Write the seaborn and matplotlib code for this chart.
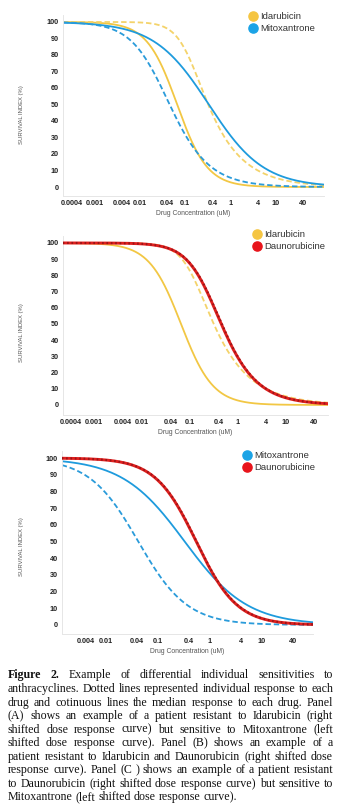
import numpy as np
import pandas as pd
import matplotlib
matplotlib.use("Agg")
import matplotlib.pyplot as plt
from matplotlib.lines import Line2D
from matplotlib.ticker import NullLocator
from matplotlib.transforms import ScaledTranslation
import seaborn as sns

sns.set_theme(style="white")
plt.rcParams['font.family'] = ['Liberation Sans', 'DejaVu Sans']

W, H, DPI = 342, 810, 100

# ---------------- data ----------------
panel_a_drugs = ["Idarubicin", "Mitoxantrone"]
panel_b_drugs = ["Idarubicin", "Daunorubicine"]
panel_c_drugs = ["Mitoxantrone", "Daunorubicine"]

# Dose-response curves (median and individual patient):
# concentration at 50 % survival (uM), Hill slope and asymmetry of the fitted curve
curve_panel = ["A", "A", "A", "A", "B", "B", "B", "B", "C", "C", "C", "C"]
curve_drug = ["Idarubicin", "Idarubicin", "Mitoxantrone", "Mitoxantrone",
              "Idarubicin", "Idarubicin", "Daunorubicine", "Daunorubicine",
              "Mitoxantrone", "Mitoxantrone", "Daunorubicine", "Daunorubicine"]
curve_kind = ["median", "patient"] * 6
curve_ic50 = [0.066, 0.32, 0.33, 0.045, 0.066, 0.32, 0.46, 0.47, 0.33, 0.042, 0.55, 0.56]
curve_hill = [1.3, 1.88, 0.72, 1.1, 1.3, 1.88, 1.42, 1.42, 0.72, 0.92, 1.1, 1.1]
curve_asym = [1.0, 0.35, 1.0, 0.75, 1.0, 0.35, 0.6, 0.6, 1.0, 1.0, 1.0, 1.0]

conc_min = {"A": 0.0002, "B": 0.00022, "C": 0.0014}
conc_max = {"A": 115, "B": 80, "C": 100}

ticks_ab = [0.0004, 0.001, 0.004, 0.01, 0.04, 0.1, 0.4, 1, 4, 10, 40]
tick_labels_ab = ["0.0004", "0.001", "0.004", "0.01", "0.04", "0.1", "0.4", "1", "4", "10", "40"]
ticks_c = [0.004, 0.01, 0.04, 0.1, 0.4, 1, 4, 10, 40]
tick_labels_c = ["0.004", "0.01", "0.04", "0.1", "0.4", "1", "4", "10", "40"]
y_ticks = [0, 10, 20, 30, 40, 50, 60, 70, 80, 90, 100]

caption_lines = [
    "Figure 2. Example of differential individual sensitivities to",
    "anthracyclines. Dotted lines represented individual response to each",
    "drug and cotinuous lines the median response to each drug. Panel",
    "(A) shows an example of a patient resistant to Idarubicin (right",
    "shifted dose response curve) but sensitive to Mitoxantrone (left",
    "shifted dose response curve). Panel (B) shows an example of a",
    "patient resistant to Idarubicin and Daunorubicin (right shifted dose",
    "response curve). Panel (C ) shows an example of a patient resistant",
    "to Daunorubicin (right shifted dose response curve) but sensitive to",
    "Mitoxantrone (left shifted dose response curve).",
]

# ---------------- styling ----------------
colors = {"Idarubicin": "#F2C744", "Mitoxantrone": "#1E9BDD", "Daunorubicine": "#E0201E"}
legend_colors = {"Idarubicin": "#F5C542", "Mitoxantrone": "#1BA3E6", "Daunorubicine": "#E8141B"}
dashed_colors = {"Idarubicin": "#F4D36A", "Mitoxantrone": "#2A9BDA"}

# axes boxes in pixels: left, right, top, bottom ; ylim
layout = {
    "A": dict(l=63, r=324, t=15, b=196, ylim=(-5.45, 104.2), ylab_y=0.45, first_shift=-5,
              leg=(248, 12), drugs=panel_a_drugs, ticks=ticks_ab, labels=tick_labels_ab),
    "B": dict(l=62.7, r=328.3, t=236, b=415, ylim=(-6.2, 104.3), ylab_y=0.46, first_shift=-4,
              leg=(252, 230), drugs=panel_b_drugs, ticks=ticks_ab, labels=tick_labels_ab),
    "C": dict(l=61.7, r=313.3, t=451, b=634, ylim=(-5.4, 104.2), ylab_y=0.475, first_shift=0,
              leg=(242, 451), drugs=panel_c_drugs, ticks=ticks_c, labels=tick_labels_c),
}

fig = plt.figure(figsize=(W / DPI, H / DPI), dpi=DPI)
fig.patch.set_facecolor("white")

curves = pd.DataFrame({"panel": curve_panel, "drug": curve_drug, "kind": curve_kind,
                       "ic50": curve_ic50, "hill": curve_hill, "asym": curve_asym})


def response(conc, ic50, hill, asym):
    # five-parameter logistic dose-response model (top 100, bottom 0)
    c = ic50 / (2.0 ** (1.0 / asym) - 1.0) ** (1.0 / hill)
    return 100.0 / (1.0 + (conc / c) ** hill) ** asym


for p, cfg in layout.items():
    ax = fig.add_axes([cfg["l"] / W, 1 - cfg["b"] / H, (cfg["r"] - cfg["l"]) / W,
                       (cfg["b"] - cfg["t"]) / H])
    ax.set_facecolor("white")
    conc = np.logspace(np.log10(conc_min[p]), np.log10(conc_max[p]), 300)
    sub = curves[curves.panel == p]
    for _, row in sub.iterrows():
        df = pd.DataFrame({"conc": conc,
                           "survival": response(conc, row.ic50, row.hill, row.asym)})
        d = row.drug
        if d == "Daunorubicine":
            if row.kind == "median":
                sns.lineplot(data=df, x="conc", y="survival", ax=ax, color=colors[d],
                             linewidth=2.1, estimator=None, errorbar=None, zorder=3)
            else:
                sns.lineplot(data=df, x="conc", y="survival", ax=ax, color="#9A1418",
                             linewidth=1.5, linestyle=(0, (0.8, 1.3)), estimator=None,
                             errorbar=None, zorder=4)
        else:
            if row.kind == "median":
                sns.lineplot(data=df, x="conc", y="survival", ax=ax, color=colors[d],
                             linewidth=1.3, estimator=None, errorbar=None, zorder=2)
            else:
                sns.lineplot(data=df, x="conc", y="survival", ax=ax, color=dashed_colors[d],
                             linewidth=1.3, linestyle=(0, (3, 1.6)), estimator=None,
                             errorbar=None, zorder=2)
    ax.set_xscale("log")
    ax.set_xlim(conc_min[p], conc_max[p])
    ax.set_ylim(*cfg["ylim"])
    ax.set_xticks(cfg["ticks"])
    ax.set_xticklabels(cfg["labels"])
    ax.xaxis.set_minor_locator(NullLocator())
    ax.set_yticks(y_ticks)
    ax.tick_params(axis="both", length=0, labelsize=5.2, colors="#222222")
    ax.tick_params(axis="x", pad=3)
    ax.tick_params(axis="y", pad=3)
    for lab in ax.get_xticklabels() + ax.get_yticklabels():
        lab.set_fontweight("bold")
    if cfg["first_shift"]:
        lab0 = ax.get_xticklabels()[0]
        lab0.set_transform(lab0.get_transform() +
                           ScaledTranslation(cfg["first_shift"] / DPI, 0, fig.dpi_scale_trans))
    for s in ["top", "right"]:
        ax.spines[s].set_visible(False)
    for s in ["left", "bottom"]:
        ax.spines[s].set_color("#e6e6e6")
        ax.spines[s].set_linewidth(0.7)
    ax.set_xlabel("Drug Concentration (uM)", fontsize=4.9, color="#555555", labelpad=2.2)
    ax.set_ylabel("SURVIVAL INDEX (%)", fontsize=4.2, color="#555555")
    ax.yaxis.set_label_coords((24 - cfg["l"]) / (cfg["r"] - cfg["l"]), cfg["ylab_y"])
    handles = [Line2D([], [], marker="o", linestyle="none", markersize=6.6,
                      markerfacecolor=legend_colors[d], markeredgecolor=legend_colors[d],
                      label=d) for d in cfg["drugs"]]
    lx, ly = cfg["leg"]
    fig.legend(handles=handles, loc="upper left", bbox_to_anchor=(lx / W, 1 - ly / H),
               frameon=False, fontsize=6.8, borderpad=0, borderaxespad=0,
               handletextpad=0.25, labelspacing=0.3, handlelength=1.0,
               labelcolor="#333333")

# ---------------- caption (justified) ----------------
renderer = fig.canvas.get_renderer()
cap_family = ["Liberation Serif", "DejaVu Serif"]
x0, x1 = 8, 333
y_first, y_step = 675, 13.56


def text_width(w, weight, fs):
    t = fig.text(0, 0, w, fontsize=fs, family=cap_family, weight=weight)
    bb = t.get_window_extent(renderer)
    t.remove()
    return bb.width

# pick the font size so that the longest line just fills the text block
base_fs = 8.0
natural = [text_width(line, "normal", base_fs) for line in caption_lines]
cap_fs = base_fs * (x1 - x0 - 2) / max(natural)

space_w = text_width("a b", "normal", cap_fs) - text_width("ab", "normal", cap_fs)

for i, line in enumerate(caption_lines):
    words = line.split(" ")
    weights = ["normal"] * len(words)
    if i == 0:
        weights[0] = "bold"
        weights[1] = "bold"
    widths = [text_width(w, wt, cap_fs) for w, wt in zip(words, weights)]
    if i == len(caption_lines) - 1:
        gap = space_w
    else:
        gap = (x1 - x0 - sum(widths)) / (len(words) - 1)
    x = x0
    yb = y_first + i * y_step + 3.4
    for w, wt, ww in zip(words, weights, widths):
        fig.text(x / W, 1 - yb / H, w, fontsize=cap_fs, family=cap_family, weight=wt,
                 color="#111111", va="baseline", ha="left")
        x += ww + gap

fig.savefig("out.png", dpi=DPI, facecolor="white")
